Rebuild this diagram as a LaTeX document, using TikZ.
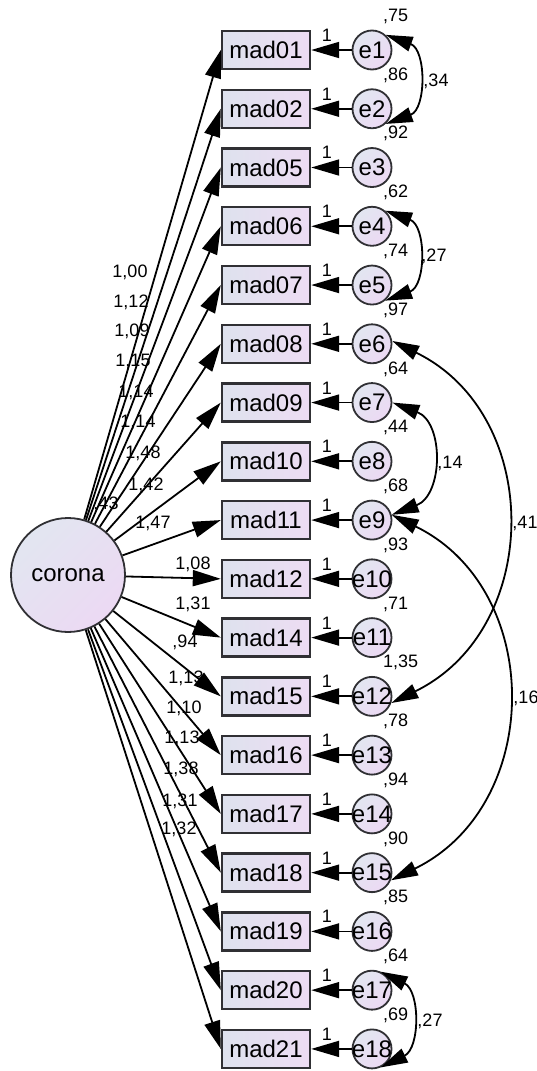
\documentclass[tikz,border=0pt]{standalone}
\usepackage{fontspec}
\setmainfont{Liberation Sans}
\usetikzlibrary{arrows.meta}

\definecolor{bordc}{RGB}{48,48,52}
\definecolor{boxl}{RGB}{222,226,238}
\definecolor{boxr}{RGB}{237,220,243}
\definecolor{cirl}{RGB}{226,230,241}
\definecolor{cirr}{RGB}{236,217,243}

\tikzset{
  obs/.style={draw=bordc, line width=2.4pt, left color=boxl, right color=boxr,
    minimum width=88pt, minimum height=38pt, inner sep=0pt,
    font=\fontsize{24}{28}\selectfont},
  err/.style={circle, draw=bordc, line width=1.8pt, top color=cirl, bottom color=cirr,
    shading angle=45, minimum size=39pt, inner sep=0pt,
    font=\fontsize{24}{28}\selectfont},
  lat/.style={err, minimum size=114pt},
  lab/.style={inner sep=0pt, text height=12.9pt, text depth=0pt,
    font=\fontsize{18}{20}\selectfont},
  arr/.style={line width=1.8pt, -{Triangle[length=28pt,width=16pt]}},
  cov/.style={line width=1.8pt, {Triangle[length=27pt,width=15pt]}-{Triangle[length=27pt,width=15pt]}},
}

\begin{document}
\begin{tikzpicture}[x=1pt,y=1pt]
\useasboundingbox (0,0) rectangle (537,-1071);

% latent factor
\node[lat] (corona) at (68,-575) {corona};
\node[lab] (vcor) at (106,-503) {{,}43};

% indicators, residuals, loadings and residual variances
\foreach \n/\ld/\lx/\ly/\ev [count=\i] in {
  01/1{,}00/130/271/{,}75,
  02/1{,}12/131/301/{,}86,
  05/1{,}09/132/330/{,}92,
  06/1{,}15/133/360/{,}62,
  07/1{,}14/136/391/{,}74,
  08/1{,}14/138/421/{,}97,
  09/1{,}48/143/452/{,}64,
  10/1{,}42/146/484/{,}44,
  11/1{,}47/153/522/{,}68,
  12/1{,}08/193/563/{,}93,
  14/1{,}31/193/603/{,}71,
  15/{,}94/185/641/1{,}35,
  16/1{,}13/186/677/{,}78,
  17/1{,}10/184/707/{,}94,
  18/1{,}13/182/737/{,}90,
  19/1{,}38/181/768/{,}85,
  20/1{,}31/180/800/{,}64,
  21/1{,}32/179/828/{,}69}
{
  \pgfmathsetmacro\yy{-(50+(\i-1)*58.76)}
  \node[obs] (m\i) at (266,\yy) {mad\n};
  \node[err] (e\i) at (372,\yy) {\makebox[0pt]{e\i}};
  \draw[arr] (e\i) -- (m\i);
  \node[lab] (one\i) at (327,\yy+15) {1};
  \node[lab,anchor=west] (v\i) at (383,\yy+35) {\ev};
  \draw[arr] (corona) -- (m\i.west);
  \node[lab] (l\i) at (\lx,-\ly) {\ld};
}

% residual covariances
\draw[cov] (e1.48) to[out=-20,in=20,looseness=1.25] (e2.-48);
\node[lab] (c12) at (436,-80) {{,}34};
\draw[cov] (e4.50) to[out=-20,in=20,looseness=1.25] (e5.-50);
\node[lab] (c45) at (434,-255) {{,}27};
\draw[cov] (e6.8) to[out=-26,in=26,looseness=1.19] (e12.-19);
\node[lab] (c612) at (525,-522) {{,}41};
\draw[cov] (e7.0) to[out=-21,in=21,looseness=1.26] (e9.15);
\node[lab] (c79) at (450,-462) {{,}14};
\draw[cov] (e9.15) to[out=-26,in=26,looseness=1.19] (e15.-22);
\node[lab] (c915) at (526,-697) {{,}16};
\draw[cov] (e17.65) to[out=-26,in=26,looseness=1.18] (e18.-65);
\node[lab] (c1718) at (430,-1020) {{,}27};
\end{tikzpicture}
\end{document}
